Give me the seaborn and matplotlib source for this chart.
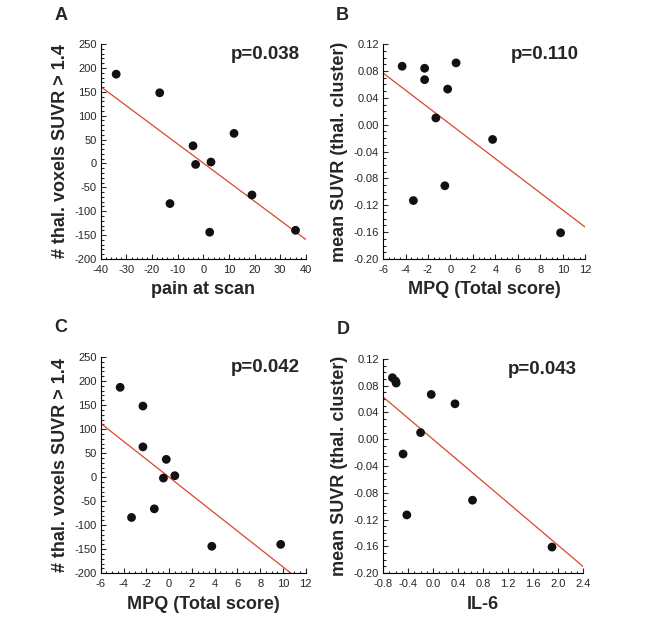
import numpy as np
import matplotlib
matplotlib.use("Agg")
import matplotlib.pyplot as plt
from matplotlib.ticker import MultipleLocator, AutoMinorLocator, FuncFormatter
import seaborn as sns

# one entry per subject, same order in every list
pain = [-34, -17, 12, -4, -3, 3, 19, -13, 2.5, 36]
mpq = [-4.3, -2.3, -2.3, -0.25, -0.5, 0.5, -1.3, -3.3, 3.75, 9.8]
il6 = [-0.60, -0.59, -0.03, 0.35, 0.63, -0.65, -0.20, -0.42, -0.48, 1.90]
voxels = [187, 148, 63, 37, -2, 3, -66, -84, -144, -140]
suvr = [0.087, 0.084, 0.067, 0.053, -0.091, 0.092, 0.010, -0.113, -0.022, -0.161]

p_values = ["p=0.038", "p=0.110", "p=0.042", "p=0.043"]
panel_letters = ["A", "B", "C", "D"]

sns.set_style("ticks")
plt.rcParams['font.family'] = ['Liberation Sans', 'DejaVu Sans']
plt.rcParams['axes.unicode_minus'] = False


def fixed(decimals):
    # avoid "-0.00" from float rounding
    def fmt(v, pos):
        v = round(v, decimals)
        if v == 0:
            v = 0.0
        return f"{v:.{decimals}f}"
    return FuncFormatter(fmt)


fig = plt.figure(figsize=(6.72, 6.21), dpi=100)

# axes boxes in figure fractions
boxes = [
    [0.150, 0.583, 0.305, 0.346],
    [0.570, 0.583, 0.301, 0.346],
    [0.150, 0.077, 0.305, 0.348],
    [0.570, 0.077, 0.298, 0.345],
]

vox_label = "# thal. voxels SUVR > 1.4"
suvr_label = "mean SUVR (thal. cluster)"
mpq_label = "MPQ (Total score)"

panels = [
    dict(x=pain, y=voxels, xlabel="pain at scan", ylabel=vox_label,
         xlim=(-40, 40), xstep=10, xminor=5, xdec=0,
         ylim=(-200, 250), ystep=50, yminor=5, ydec=0),
    dict(x=mpq, y=suvr, xlabel=mpq_label, ylabel=suvr_label,
         xlim=(-6, 12), xstep=2, xminor=4, xdec=0,
         ylim=(-0.20, 0.12), ystep=0.04, yminor=4, ydec=2),
    dict(x=mpq, y=voxels, xlabel=mpq_label, ylabel=vox_label,
         xlim=(-6, 12), xstep=2, xminor=4, xdec=0,
         ylim=(-200, 250), ystep=50, yminor=5, ydec=0),
    dict(x=il6, y=suvr, xlabel="IL-6", ylabel=suvr_label,
         xlim=(-0.8, 2.4), xstep=0.4, xminor=4, xdec=1,
         ylim=(-0.20, 0.12), ystep=0.04, yminor=4, ydec=2),
]

for i, p in enumerate(panels):
    ax = fig.add_axes(boxes[i])
    ax.set_xlim(p['xlim'])
    ax.set_ylim(p['ylim'])
    sns.regplot(x=np.array(p['x']), y=np.array(p['y']), ax=ax, ci=None, truncate=False,
                scatter_kws=dict(s=40, color='#111111', edgecolor='none', alpha=1, zorder=3),
                line_kws=dict(color='#d9472c', lw=0.9, zorder=2))
    ax.set_xlim(p['xlim'])
    ax.set_ylim(p['ylim'])
    ax.xaxis.set_major_locator(MultipleLocator(p['xstep']))
    ax.yaxis.set_major_locator(MultipleLocator(p['ystep']))
    ax.xaxis.set_minor_locator(AutoMinorLocator(p['xminor']))
    ax.yaxis.set_minor_locator(AutoMinorLocator(p['yminor']))
    ax.xaxis.set_major_formatter(fixed(p['xdec']))
    ax.yaxis.set_major_formatter(fixed(p['ydec']))
    ax.tick_params(which='both', direction='in', width=0.8, labelsize=8)
    ax.tick_params(axis='x', pad=4)
    ax.tick_params(axis='y', pad=3)
    ax.tick_params(which='major', length=3.5)
    ax.tick_params(which='minor', length=1.8)
    sns.despine(ax=ax)
    for s in ['left', 'bottom']:
        ax.spines[s].set_linewidth(0.8)
        ax.spines[s].set_color('black')
    ax.set_xlabel(p['xlabel'], fontsize=13, fontweight='bold', labelpad=5)
    ax.set_ylabel(p['ylabel'], fontsize=13, fontweight='bold', labelpad=4)
    ax.text(0.97, 0.95, p_values[i], transform=ax.transAxes, ha='right', va='center',
            fontsize=13.5, fontweight='bold')

letter_pos = [(61, 15), (342, 15), (61, 328), (343, 330)]
for letter, (px, py) in zip(panel_letters, letter_pos):
    fig.text(px / 672, 1 - py / 621, letter, ha='center', va='center',
             fontsize=13, fontweight='bold')

fig.savefig("out.png", dpi=100)
